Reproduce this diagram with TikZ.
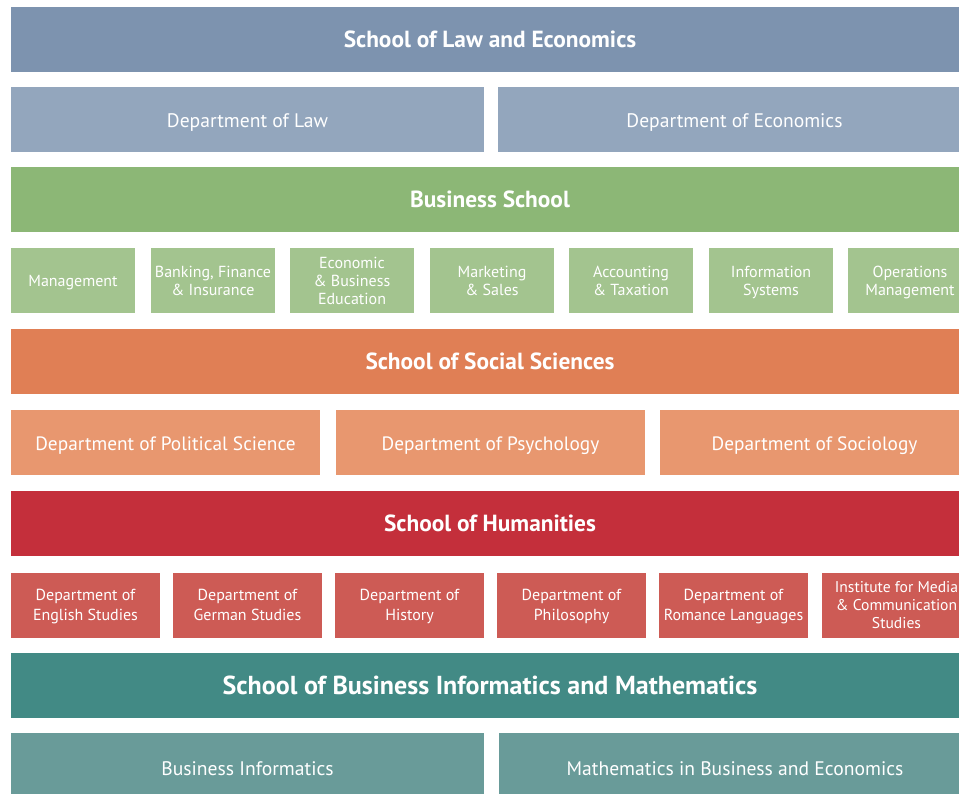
\documentclass[tikz,border=0pt]{standalone}
\usepackage{fontspec}
\setmainfont{PT Sans}
\usepackage{tikz}

\definecolor{lawA}{RGB}{125,147,175}
\definecolor{lawB}{RGB}{147,166,189}
\definecolor{busA}{RGB}{140,183,118}
\definecolor{busB}{RGB}{163,196,143}
\definecolor{socA}{RGB}{224,127,85}
\definecolor{socB}{RGB}{232,151,111}
\definecolor{humA}{RGB}{196,47,59}
\definecolor{humB}{RGB}{205,91,85}
\definecolor{infA}{RGB}{66,138,133}
\definecolor{infB}{RGB}{105,155,153}

\begin{document}
\begin{tikzpicture}[x=0.75pt,y=-0.75pt,
  cell/.style={inner sep=0pt, text=white, align=center, text depth=-0.5pt, minimum height=48.75pt},
  school/.style={cell, text height=11.8pt, text depth=0pt, minimum width=718.5pt, font=\fontsize{17.5}{20}\selectfont\bfseries},
  half/.style={cell, text height=12.4pt, text depth=0pt, minimum width=354.75pt, font=\fontsize{14.7}{17}\selectfont},
  third/.style={cell, text height=12.4pt, text depth=0pt, minimum width=231.75pt, font=\fontsize{14.5}{17}\selectfont},
  unit/.style={cell, minimum width=93pt, font=\fontsize{12}{13.5}\selectfont},
  dept/.style={cell, text depth=-1.5pt, minimum width=111.75pt, font=\fontsize{12}{15}\selectfont}]
\useasboundingbox (0,0) rectangle (959,793);

% School of Law and Economics
\node [school, fill=lawA] (law) at (490,39.5) {School of Law and Economics};
\node [half, fill=lawB] (lawdep) at (247.5,119) {Department of Law};
\node [half, fill=lawB] (ecodep) at (734.5,119) {Department of Economics};

% Business School
\node [school, fill=busA] (bus) at (490,199.5) {Business School};
\node [unit, fill=busB] (mgmt) at (73,280.5) {Management};
\node [unit, fill=busB] (bank) at (213,280.5) {Banking, Finance\\\& Insurance};
\node [unit, fill=busB] (edu) at (352,280.5) {Economic\\\& Business\\Education};
\node [unit, fill=busB] (mkt) at (492,280.5) {Marketing\\\& Sales};
\node [unit, fill=busB] (acc) at (631,280.5) {Accounting\\\& Taxation};
\node [unit, fill=busB] (infsys) at (771,280.5) {Information\\Systems};
\node [unit, fill=busB] (ops) at (910,280.5) {Operations\\Management};

% School of Social Sciences
\node [school, fill=socA] (soc) at (490,361.5) {School of Social Sciences};
\node [third, fill=socB] (pol) at (165.5,442.5) {Department of Political Science};
\node [third, fill=socB] (psy) at (490.5,442.5) {Department of Psychology};
\node [third, fill=socB] (sociol) at (814.5,442.5) {Department of Sociology};

% School of Humanities
\node [school, fill=humA] (hum) at (490,523.5) {School of Humanities};
\node [dept, fill=humB] (eng) at (85.5,605) {Department of\\English Studies};
\node [dept, fill=humB] (ger) at (247.5,605) {Department of\\German Studies};
\node [dept, fill=humB] (his) at (409.5,605) {Department of\\History};
\node [dept, fill=humB] (phil) at (571.5,605) {Department of\\Philosophy};
\node [dept, fill=humB] (rom) at (733.5,605) {Department of\\Romance Languages};
\node [dept, fill=humB, font=\fontsize{11.7}{13.5}\selectfont] (media) at (896.5,605) {Institute for Media\\\& Communication\\Studies};

% School of Business Informatics and Mathematics
\node [school, fill=infA, text height=14pt, font=\fontsize{19.5}{22}\selectfont\bfseries] (inf) at (490,685) {School of Business Informatics and Mathematics};
\node [half, fill=infB, minimum height=51pt] (binf) at (247.5,767) {Business Informatics};
\node [half, fill=infB, minimum height=51pt] (math) at (735,767) {Mathematics in Business and Economics};

\end{tikzpicture}
\end{document}
